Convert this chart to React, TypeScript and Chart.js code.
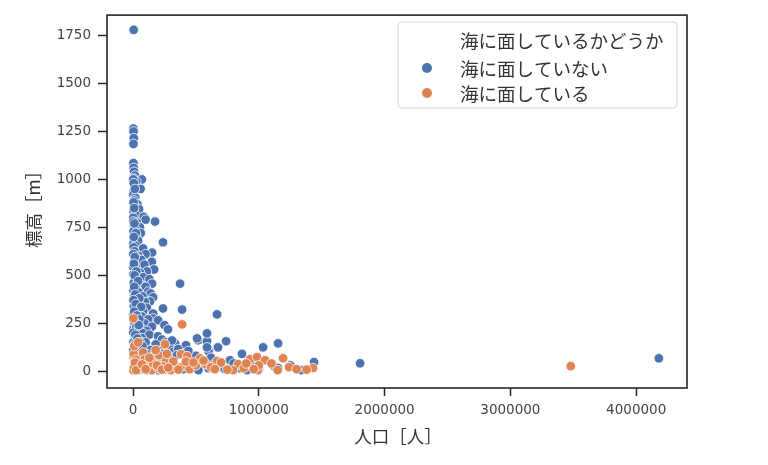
import React, { useEffect, useRef } from "react";
import { Chart, registerables } from "chart.js";

Chart.register(...registerables);

// [population, elevation]
const notCoastal: [number, number][] = [
  [5000, 1780], [3000, 1265], [4000, 1250], [6000, 1215], [3500, 1185],
  [3000, 1085], [5000, 1060], [8000, 1040], [15000, 1020], [70000, 1000], [4000, 1005], [10000, 975], [25000, 990],
  [60000, 950], [6000, 940], [3000, 920], [18000, 905], [9000, 890], [35000, 870], [12000, 860], [48000, 845],
  [5000, 830], [20000, 815], [2000, 800], [85000, 805], [100000, 790], [175000, 780], [30000, 775], [7000, 760],
  [55000, 750], [15000, 740], [4000, 730], [62000, 720], [25000, 705], [10000, 690], [40000, 680], [238000, 672],
  [3000, 665], [20000, 655], [80000, 640], [5000, 645], [151000, 618], [12000, 625], [100000, 610], [45000, 600],
  [30000, 590], [65000, 580], [8000, 570], [150000, 570], [90000, 555], [20000, 545], [4000, 540], [167000, 530],
  [110000, 520], [55000, 515], [2000, 505], [35000, 498], [80000, 490], [130000, 480], [15000, 470], [5000, 460],
  [374000, 456], [151000, 456], [60000, 450], [100000, 440], [25000, 430], [3000, 420], [120000, 415], [45000, 410],
  [140000, 405], [8000, 395], [75000, 390], [160000, 385], [30000, 375], [135000, 363], [95000, 360], [12000, 355],
  [55000, 345], [6000, 340], [238000, 327], [390000, 321], [110000, 330], [40000, 320], [80000, 312], [668000, 296],
  [20000, 305], [160000, 300], [3000, 290], [70000, 285], [159000, 275], [120000, 270], [200000, 265], [35000, 260],
  [90000, 250], [10000, 245], [250000, 240], [150000, 232], [60000, 228], [278000, 218], [5000, 220], [110000, 210],
  [40000, 205], [80000, 197], [130000, 190], [199000, 182], [15000, 180], [70000, 172], [517000, 161], [588000, 156],
  [740000, 156], [334000, 145], [421000, 135], [668000, 124], [600000, 104], [1034000, 124], [1153000, 145],
  [866000, 90], [1439000, 47], [1336000, 5], [1121000, 26], [1805000, 41], [4180000, 67], [906000, 5], [771000, 57],
  [692000, 31], [469000, 41], [159000, 21], [32000, 16], [230000, 165], [290000, 130], [260000, 150], [180000, 140],
  [100000, 150], [45000, 160], [3000, 150], [25000, 130], [60000, 120], [140000, 110], [210000, 105], [320000, 100],
  [360000, 115], [400000, 90], [450000, 60], [500000, 80], [550000, 40], [620000, 70], [700000, 20], [800000, 40],
  [950000, 25], [1000000, 10], [1153000, 16], [1250000, 30], [240000, 60], [180000, 45], [120000, 30], [70000, 55],
  [20000, 40], [5000, 70], [10000, 100], [2000, 110], [90000, 80], [160000, 75], [280000, 40], [340000, 20],
  [400000, 10], [520000, 5], [600000, 15], [650000, 40], [730000, 10], [850000, 15], [260000, 10], [200000, 5],
  [50000, 5], [8000, 20], [15000, 60], [2000, 1000], [6000, 980], [14000, 950], [4000, 880], [9000, 850],
  [3000, 780], [11000, 770], [22000, 720], [6000, 700], [2000, 610], [14000, 595], [7000, 560], [26000, 520],
  [12000, 500], [40000, 470], [9000, 440], [18000, 400], [50000, 380], [4000, 370], [22000, 350], [65000, 335],
  [10000, 310], [30000, 290], [50000, 270], [8000, 260], [25000, 230], [45000, 240], [2000, 200], [18000, 190],
  [35000, 170], [55000, 150], [12000, 140], [30000, 110], [50000, 95], [75000, 130], [105000, 90], [40000, 70],
  [22000, 25], [60000, 15], [85000, 40], [130000, 60], [110000, 5], [170000, 15], [230000, 90], [300000, 70],
  [509000, 171], [588000, 197], [350000, 83], [588000, 124], [676000, 124], [440000, 105], [310000, 160],
];

const coastal: [number, number][] = [
  [3000, 275], [390000, 244], [254000, 140], [5000, 88], [80000, 98], [207000, 83], [382000, 88], [430000, 78],
  [262000, 52], [350000, 21], [397000, 26], [533000, 67], [580000, 36], [668000, 52], [835000, 36], [930000, 62],
  [986000, 73], [994000, 5], [1050000, 57], [1193000, 67], [1240000, 21], [1431000, 16], [3480000, 26], [2000, 5],
  [111000, 21], [795000, 5], [50000, 10], [150000, 5], [200000, 15], [300000, 5], [450000, 10], [500000, 30],
  [620000, 20], [700000, 45], [750000, 8], [880000, 15], [1100000, 40], [1300000, 10], [30000, 40], [90000, 60],
  [160000, 40], [240000, 25], [320000, 50], [10000, 130], [40000, 150], [20000, 60], [60000, 25], [420000, 50],
  [560000, 55], [1000000, 30], [1150000, 5], [1380000, 8], [270000, 90], [130000, 70], [180000, 110],
  [8000, 20], [15000, 45], [25000, 5], [70000, 35], [100000, 10], [190000, 30], [230000, 8], [280000, 18],
  [360000, 8], [480000, 45], [650000, 10], [900000, 40], [960000, 10],
];

const xTickValues = [0, 1000000, 2000000, 3000000, 4000000];
const yTickValues = [0, 250, 500, 750, 1000, 1250, 1500, 1750];

const xTitle = "人口［人］";
const yTitle = "標高［m］";
const legendTitle = "海に面しているかどうか";
const seriesLabels = ["海に面していない", "海に面している"];
const seriesColors = ["#4c72b0", "#dd8452"];

const FONT_NUM = "'DejaVu Sans', 'Noto Sans CJK JP', sans-serif";
const FONT_JP = "'Noto Sans CJK JP', 'DejaVu Sans', sans-serif";

export default function App() {
  const ref = useRef<HTMLCanvasElement | null>(null);

  useEffect(() => {
    if (!ref.current) return;

    const overlay = {
      id: "overlay",
      afterDraw(chart: any) {
        const { ctx, chartArea } = chart;
        const { left, top, right, bottom } = chartArea;
        ctx.save();
        // frame
        ctx.strokeStyle = "#262626";
        ctx.lineWidth = 1.6;
        ctx.strokeRect(left, top, right - left, bottom - top);

        // axis titles
        ctx.fillStyle = "#333";
        ctx.font = `17.5px ${FONT_JP}`;
        ctx.textAlign = "center";
        ctx.textBaseline = "middle";
        ctx.fillText(xTitle, 398, 436);
        ctx.save();
        ctx.translate(33, 205);
        ctx.rotate(-Math.PI / 2);
        ctx.fillText(yTitle, 0, 0);
        ctx.restore();

        // legend
        const bx = 398, by = 22, bw = 279, bh = 86, r = 4;
        ctx.beginPath();
        ctx.moveTo(bx + r, by);
        ctx.lineTo(bx + bw - r, by);
        ctx.quadraticCurveTo(bx + bw, by, bx + bw, by + r);
        ctx.lineTo(bx + bw, by + bh - r);
        ctx.quadraticCurveTo(bx + bw, by + bh, bx + bw - r, by + bh);
        ctx.lineTo(bx + r, by + bh);
        ctx.quadraticCurveTo(bx, by + bh, bx, by + bh - r);
        ctx.lineTo(bx, by + r);
        ctx.quadraticCurveTo(bx, by, bx + r, by);
        ctx.closePath();
        ctx.fillStyle = "rgba(255,255,255,0.8)";
        ctx.fill();
        ctx.strokeStyle = "#d6d6d6";
        ctx.lineWidth = 1;
        ctx.stroke();

        ctx.font = `18.5px ${FONT_JP}`;
        ctx.textAlign = "left";
        ctx.fillStyle = "#333";
        ctx.fillText(legendTitle, 460, 41);
        const rows = [68, 93];
        seriesLabels.forEach((lab, i) => {
          ctx.beginPath();
          ctx.arc(427, rows[i], 5, 0, Math.PI * 2);
          ctx.fillStyle = seriesColors[i];
          ctx.fill();
          ctx.fillStyle = "#333";
          ctx.fillText(lab, 460, rows[i] + 1);
        });
        ctx.restore();
      },
    };

    const chart = new Chart(ref.current, {
      type: "scatter",
      data: {
        datasets: [
          {
            label: seriesLabels[0],
            data: notCoastal.map(([x, y]) => ({ x, y })),
            backgroundColor: seriesColors[0],
            borderColor: "#ffffff",
            borderWidth: 0.8,
            pointRadius: 4.8,
            order: 2,
          },
          {
            label: seriesLabels[1],
            data: coastal.map(([x, y]) => ({ x, y })),
            backgroundColor: seriesColors[1],
            borderColor: "#ffffff",
            borderWidth: 0.8,
            pointRadius: 4.8,
            order: 1,
          },
        ],
      },
      options: {
        animation: false,
        responsive: true,
        maintainAspectRatio: false,
        devicePixelRatio: 1,
        layout: { padding: { left: 0, top: 13, right: 81, bottom: 0 } },
        plugins: { legend: { display: false }, tooltip: { enabled: false } },
        scales: {
          x: {
            type: "linear",
            min: -207000,
            max: 4404000,
            afterBuildTicks: (s: any) => {
              s.ticks = xTickValues.map((v) => ({ value: v }));
            },
            afterFit: (s: any) => {
              s.height = 77;
            },
            grid: {
              display: true,
              drawOnChartArea: false,
              drawTicks: true,
              tickLength: 8,
              tickWidth: 1.5,
              tickColor: "#262626",
            },
            border: { display: false },
            ticks: {
              padding: 6,
              color: "#444",
              font: { family: FONT_NUM, size: 13.5 },
              maxRotation: 0,
              autoSkip: false,
              callback: (v: any) => String(v),
            },
          },
          y: {
            type: "linear",
            min: -88,
            max: 1857,
            afterBuildTicks: (s: any) => {
              s.ticks = yTickValues.map((v) => ({ value: v }));
            },
            afterFit: (s: any) => {
              s.width = 107;
            },
            grid: {
              display: true,
              drawOnChartArea: false,
              drawTicks: true,
              tickLength: 9,
              tickWidth: 1.5,
              tickColor: "#262626",
            },
            border: { display: false },
            ticks: {
              padding: 7,
              color: "#444",
              font: { family: FONT_NUM, size: 13.5 },
              autoSkip: false,
              callback: (v: any) => String(v),
            },
          },
        },
      },
      plugins: [overlay],
    });

    return () => chart.destroy();
  }, []);

  return (
    <div style={{ position: "absolute", left: 0, top: 0, width: 768, height: 465, background: "#fff" }}>
      <canvas ref={ref} />
    </div>
  );
}
